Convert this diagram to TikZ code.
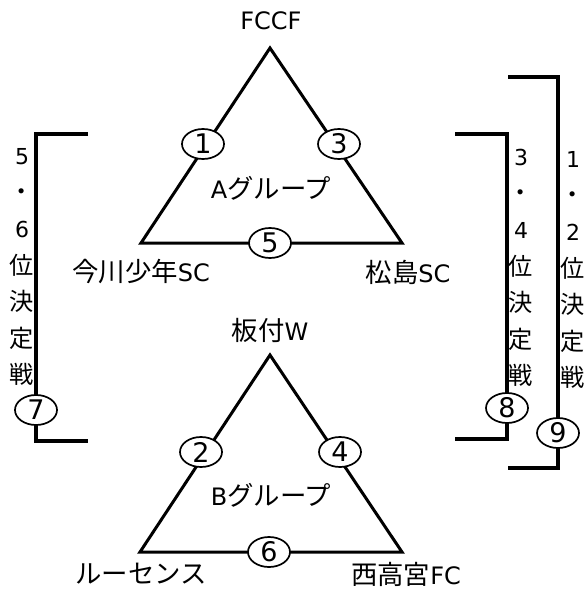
\documentclass[tikz,border=0pt]{standalone}
\usepackage{fontspec}
\setmainfont{DejaVu Sans}
\newfontfamily\jp{Noto Sans CJK JP}[Scale=1.1]
\usetikzlibrary{shapes.geometric}
\begin{document}
\begin{tikzpicture}[x=1pt,y=-1pt,
  tri/.style={line width=3pt, line join=miter},
  brk/.style={line width=4pt},
  num/.style={draw, ellipse, line width=1.7pt, fill=white, minimum width=42pt, minimum height=30pt, inner sep=0pt, font=\fontsize{27}{27}\selectfont},
  lbl/.style={font=\fontsize{24}{26}\selectfont, inner sep=0pt},
  vt/.style={font=\fontsize{22}{36.6}\selectfont, align=center, inner sep=0pt}]
\useasboundingbox (0,0) rectangle (587,589);

% Group A
\coordinate (A1) at (270,48);
\coordinate (A2) at (141,243);
\coordinate (A3) at (402,243);
\draw[tri] (A1) -- (A2) -- (A3) -- cycle;
\node[num] (m1) at (203,144) {1};
\node[num] (m3) at (339,144) {3};
\node[num] (m5) at (270,243) {5};
\node[lbl] (ta) at (271,188) {A\jp グループ};
\node[lbl] (fccf) at (271,21) {FCCF};
\node[lbl] (imagawa) at (141,272) {\jp 今川少年\rmfamily SC};
\node[lbl] (matsu) at (408,272) {\jp 松島\rmfamily SC};

% Group B
\coordinate (B1) at (270,355);
\coordinate (B2) at (140,552);
\coordinate (B3) at (402,552);
\draw[tri] (B1) -- (B2) -- (B3) -- cycle;
\node[num] (m2) at (201,452) {2};
\node[num] (m4) at (340,452) {4};
\node[num] (m6) at (269,552) {6};
\node[lbl] (tb) at (271,495) {B\jp グループ};
\node[lbl] (itazuke) at (270,330) {\jp 板付\rmfamily W};
\node[lbl] (lucens) at (141,574) {\jp ルーセンス};
\node[lbl] (nishi) at (406,574) {\jp 西高宮\rmfamily FC};

% 5-6 bracket
\coordinate (L1) at (88,134);
\coordinate (L2) at (36,134);
\coordinate (L3) at (36,441);
\coordinate (L4) at (88,441);
\draw[brk] (L1) -- (L2) -- (L3) -- (L4);
\node[num] (m7) at (36,410) {7};
\node[vt] (v56) at (22,267) {5\\{\jp ・}\\6\\{\jp 位}\\{\jp 決}\\{\jp 定}\\{\jp 戦}};

% 3-4 bracket
\coordinate (R1) at (455,134);
\coordinate (R2) at (507,134);
\coordinate (R3) at (507,439);
\coordinate (R4) at (455,439);
\draw[brk] (R1) -- (R2) -- (R3) -- (R4);
\node[num] (m8) at (507,408) {8};
\node[vt] (v34) at (521,268) {3\\{\jp ・}\\4\\{\jp 位}\\{\jp 決}\\{\jp 定}\\{\jp 戦}};

% 1-2 bracket
\coordinate (S1) at (508,77);
\coordinate (S2) at (558,77);
\coordinate (S3) at (558,468);
\coordinate (S4) at (508,468);
\draw[brk] (S1) -- (S2) -- (S3) -- (S4);
\node[num] (m9) at (558,433) {9};
\node[vt] (v12) at (573,270) {1\\{\jp ・}\\2\\{\jp 位}\\{\jp 決}\\{\jp 定}\\{\jp 戦}};
\end{tikzpicture}
\end{document}
